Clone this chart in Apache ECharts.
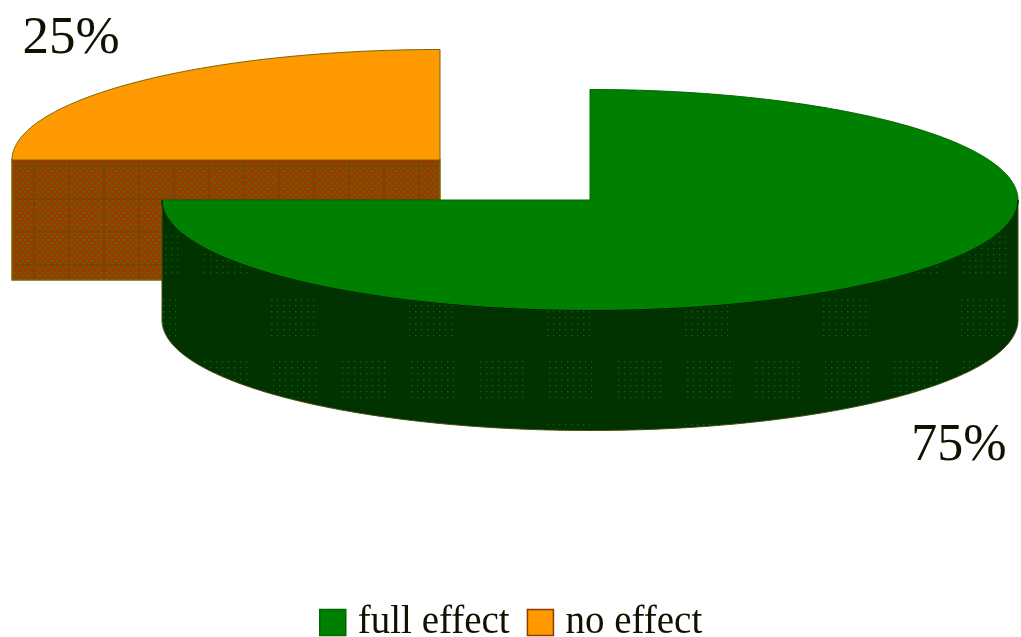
<!DOCTYPE html>
<html>
<head>
<meta charset="utf-8">
<style>html,body{margin:0;padding:0;background:#fff}#chart{width:1021px;height:637px}</style>
<script src="https://cdn.jsdelivr.net/npm/echarts@6/dist/echarts.min.js"></script>
</head>
<body>
<div id="chart"></div>
<script>
// Slice data, clockwise from twelve o'clock
const sliceNames = ['full effect', 'no effect'];
const sliceValues = [75, 25];

// Oblique pie projection
const RADIUS_X = 428, RADIUS_Y = 110.5, DEPTH = 120;
const GREEN = { top: '#008000', edge: '#006600', wallLine: '#001a00', rim: '#4a4a10' };
const ORANGE = { top: '#ff9900', edge: '#7a6400', cut: '#8f3800' };
const serif = '"Liberation Serif", "Times New Roman", serif';

// Each slice sits at its own exploded centre, and carries its label anchor
const sliceLayout = {
  'full effect': { cx: 590, cy: 200, labelX: 959, labelY: 472, labelSize: 52 },
  'no effect': { cx: 440, cy: 160, labelX: 71, labelY: 66, labelSize: 53 }
};

// Dark wall with sparse patches of dots
function dottedWall() {
  const w = 138, h = 125;
  const c = document.createElement('canvas');
  c.width = w; c.height = h;
  const g = c.getContext('2d');
  g.fillStyle = '#003300';
  g.fillRect(0, 0, w, h);
  function patch(px, py) {
    for (let i = 0; i < 8; i++) for (let j = 0; j < 7; j++) {
      const x = (px + i * 6) % w, y = (py + j * 6) % h;
      g.fillStyle = '#0f640f';
      g.fillRect(x, y, 1, 1);
      g.fillStyle = '#064306';
      g.fillRect(x + 1 < w ? x + 1 : x, y, 1, 1);
      g.fillRect(x, y + 1 < h ? y + 1 : y, 1, 1);
    }
  }
  patch(66, 111); patch(135, 111); patch(133, 49);
  return c;
}

// Woven brown-and-olive wall, with tiles separated by plain bands
function wovenWall() {
  const w = 35, h = 33;
  const c = document.createElement('canvas');
  c.width = w; c.height = h;
  const g = c.getContext('2d');
  g.fillStyle = '#9a3a02';
  g.fillRect(0, 0, w, h);
  for (let y = 2; y < h; y += 3) for (let x = 0; x < w - 2; x += 3) {
    if ((x / 3 + (y - 2) / 3) % 2 === 0) {
      g.fillStyle = '#6e5c00';
      g.fillRect(x, y, 3, 2);
    }
  }
  g.fillStyle = '#823f06';
  g.fillRect(0, 0, w, 2);
  g.fillRect(w - 2, 0, 2, h);
  return c;
}

const dottedFill = { image: dottedWall(), repeat: 'repeat' };
const wovenFill = { image: wovenWall(), repeat: 'repeat' };

const total = sliceValues.reduce((a, b) => a + b, 0);

function arcPoints(cx, cy, from, to) {
  const pts = [];
  const n = Math.max(2, Math.ceil(Math.abs(to - from) / 0.5));
  for (let i = 0; i <= n; i++) {
    const t = (from + (to - from) * i / n) * Math.PI / 180;
    pts.push([cx + RADIUS_X * Math.cos(t), cy - RADIUS_Y * Math.sin(t)]);
  }
  return pts;
}

function makeRenderItem(sliceIndex) {
  return function (params, api) {
    const value = api.value(0);
    const before = sliceValues.slice(0, sliceIndex).reduce((a, b) => a + b, 0);
    const start = 90 - before / total * 360;
    const end = start - value / total * 360;
    const box = sliceLayout[sliceNames[sliceIndex]];
    const { cx, cy } = box;
    const isGreen = sliceIndex === 0;
    const children = [];

    // The front wall covers whatever part of the arc faces the viewer
    const wallFrom = Math.min(start, 0), wallTo = Math.max(end, -180);
    if (wallFrom > wallTo) {
      const upper = arcPoints(cx, cy, wallFrom, wallTo);
      const lower = upper.map(p => [p[0], p[1] + DEPTH]).reverse();
      children.push({
        type: 'polygon', silent: true,
        shape: { points: upper.concat(lower) },
        style: { fill: dottedFill, stroke: GREEN.rim, lineWidth: 1 }
      });
    } else {
      // Otherwise the radial cut along the leading edge of the slice is what shows
      const rimStart = arcPoints(cx, cy, start, start)[0];
      children.push({
        type: 'polygon', silent: true,
        shape: { points: [[cx, cy], rimStart, [rimStart[0], rimStart[1] + DEPTH], [cx, cy + DEPTH]] },
        style: { fill: wovenFill, stroke: ORANGE.edge, lineWidth: 1.5 }
      });
      children.push({
        type: 'line', silent: true,
        shape: { x1: rimStart[0], y1: cy + 1, x2: cx, y2: cy + 1 },
        style: { stroke: ORANGE.cut, lineWidth: 3 }
      });
    }

    // Top face
    const rim = arcPoints(cx, cy, start, end);
    children.push({
      type: 'polygon', silent: true,
      shape: { points: [[cx, cy]].concat(rim) },
      style: {
        fill: isGreen ? GREEN.top : ORANGE.top,
        stroke: isGreen ? GREEN.edge : ORANGE.edge,
        lineWidth: 1
      }
    });
    if (isGreen) {
      children.push({
        type: 'polyline', silent: true,
        shape: { points: arcPoints(cx, cy, 0, -180) },
        style: { fill: 'none', stroke: GREEN.wallLine, lineWidth: 1 }
      });
    }

    // Percentage label
    children.push({
      type: 'text', silent: true,
      style: {
        text: Math.round(value / total * 100) + '%',
        x: box.labelX, y: box.labelY,
        font: box.labelSize + 'px ' + serif,
        fill: '#111100', textAlign: 'center', textVerticalAlign: 'bottom'
      }
    });
    return { type: 'group', children };
  };
}

const chart = echarts.init(document.getElementById('chart'), null, { renderer: 'canvas' });
chart.setOption({
  animation: false,
  backgroundColor: '#ffffff',
  legend: {
    left: 319, top: 603,
    itemWidth: 26, itemHeight: 26, itemGap: 17,
    selectedMode: false, padding: 0,
    textStyle: { fontFamily: serif, fontSize: 39, color: '#111100', padding: [6, 0, 0, 7] },
    data: [
      { name: sliceNames[0], icon: 'rect', itemStyle: { color: GREEN.top, borderColor: GREEN.edge, borderWidth: 1.5 } },
      { name: sliceNames[1], icon: 'rect', itemStyle: { color: ORANGE.top, borderColor: ORANGE.cut, borderWidth: 1.5 } }
    ]
  },
  series: sliceNames.map((name, i) => ({
    type: 'custom',
    name,
    coordinateSystem: 'none',
    z: i === 0 ? 3 : 2,
    clip: false,
    itemStyle: { color: i === 0 ? GREEN.top : ORANGE.top },
    renderItem: makeRenderItem(i),
    data: [[sliceValues[i]]]
  }))
});
</script>
</body>
</html>
